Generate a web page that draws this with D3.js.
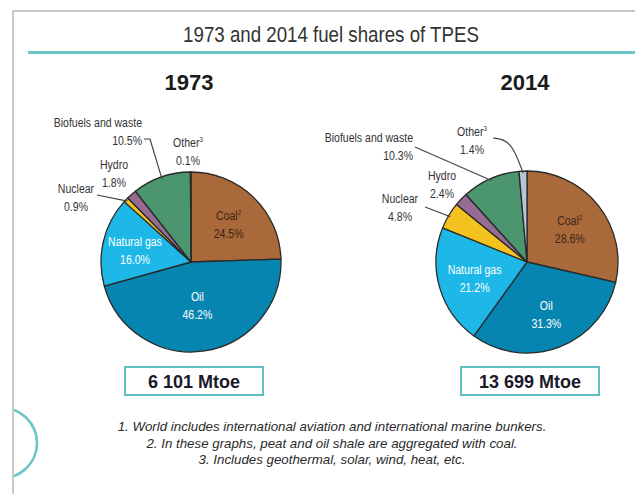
<!DOCTYPE html>
<html lang="en">
<head>
  <meta charset="UTF-8" />
  <title>1973 and 2014 fuel shares of TPES</title>
  <script src="https://d3js.org/d3.v7.min.js"></script>
  <style>
    body { margin: 0; background: #fff; }
    svg { display: block; }
    text { font-family: "Liberation Sans", Arial, sans-serif; }
  </style>
</head>
<body>
  <div id="chart"></div>
  <script>
    // dados
    const categories = ["Coal", "Oil", "Natural gas", "Nuclear", "Hydro", "Biofuels and waste", "Other"];
    const years = ["1973", "2014"];
    const shares1973 = [24.5, 46.2, 16.0, 0.9, 1.8, 10.5, 0.1];
    const shares2014 = [28.6, 31.3, 21.2, 4.8, 2.4, 10.3, 1.4];
    const totals = ["6 101 Mtoe", "13 699 Mtoe"];
    const footnotes = [
      "1. World includes international aviation and international marine bunkers.",
      "2. In these graphs, peat and oil shale are aggregated with coal.",
      "3. Includes geothermal, solar, wind, heat, etc."
    ];
    const title = "1973 and 2014 fuel shares of TPES";

    // estilo
    const colors = ["#a9693a", "#0685b0", "#1db7e8", "#f4c21e", "#966c95", "#4b966e", "#b9c4d6"];
    const supers = { "Coal": "2", "Other": "3" };
    const inside = ["Coal", "Oil", "Natural gas"];

    const width = 635, height = 494;

    const svg = d3.select("#chart").append("svg")
      .attr("width", width)
      .attr("height", height);

    // texto estreito (sem fonte condensada instalada: escala horizontal)
    function narrow(parent, x, y, sx) {
      return parent.append("g")
        .attr("transform", `translate(${x},${y}) scale(${sx},1)`)
        .append("text");
    }

    // moldura
    svg.append("path")
      .attr("d", `M13,${height} L13,11 L${width},11`)
      .attr("fill", "none")
      .attr("stroke", "#c8c8c8")
      .attr("stroke-width", 2);

    svg.append("line")
      .attr("x1", 28).attr("x2", width)
      .attr("y1", 52.5).attr("y2", 52.5)
      .attr("stroke", "#6cc6c6")
      .attr("stroke-width", 3);

    svg.append("defs").append("clipPath").attr("id", "clip")
      .append("rect").attr("x", 14).attr("y", 0).attr("width", 100).attr("height", height);

    svg.append("circle")
      .attr("clip-path", "url(#clip)")
      .attr("cx", 2).attr("cy", 443).attr("r", 35)
      .attr("fill", "none")
      .attr("stroke", "#6cc6c6")
      .attr("stroke-width", 2.5);

    narrow(svg, 331, 42, 0.85)
      .attr("text-anchor", "middle")
      .attr("font-size", 22)
      .attr("fill", "#333")
      .text(title);

    // posição das tortas e rótulos externos (relativos ao centro)
    const pies = [
      {
        values: shares1973, cx: 191, cy: 262, r: 90,
        insideR: { "Coal": 0.6, "Oil": 0.47, "Natural gas": 0.64 },
        outside: {
          "Nuclear": { dx: -115, dy: -69, anchor: "middle", leader: [[-94, -67]] },
          "Hydro": { dx: -77, dy: -93, anchor: "middle" },
          "Biofuels and waste": { dx: -49, dy: -135, anchor: "end", leader: [[-47, -123], [-41, -123]] },
          "Other": { dx: -3, dy: -115, anchor: "middle" }
        }
      },
      {
        values: shares2014, cx: 527, cy: 262, r: 91,
        insideR: { "Coal": 0.6, "Oil": 0.6, "Natural gas": 0.6 },
        outside: {
          "Nuclear": { dx: -127, dy: -59, anchor: "middle", leader: [[-102, -55]] },
          "Hydro": { dx: -85, dy: -82, anchor: "middle" },
          "Biofuels and waste": { dx: -114, dy: -120, anchor: "end", leader: [[-112, -115]] },
          "Other": { dx: -55, dy: -126, anchor: "middle", leader: [[-34, -124], [-16, -122]], curved: true }
        }
      }
    ];

    const fmt = d3.format(".1f");

    function addLabel(g, x, y, name, value, anchor, fill, lh) {
      const t = narrow(g, x, y, 0.78)
        .attr("text-anchor", anchor)
        .attr("font-size", 13.5)
        .attr("fill", fill);
      t.append("tspan").text(name);
      if (supers[name]) {
        t.append("tspan").attr("dy", -5).attr("font-size", 8).text(supers[name]);
      }
      narrow(g, x, y + lh, 0.78)
        .attr("text-anchor", anchor)
        .attr("font-size", 13.5)
        .attr("fill", fill)
        .text(fmt(value) + "%");
    }

    pies.forEach((p, i) => {
      const data = categories.map((c, j) => ({ name: c, value: p.values[j], color: colors[j] }));
      const pie = d3.pie().sort(null).value(d => d.value);
      const arcs = pie(data);
      const arc = d3.arc().innerRadius(0).outerRadius(p.r);

      const g = svg.append("g").attr("transform", `translate(${p.cx},${p.cy})`);

      g.selectAll("path.slice")
        .data(arcs)
        .join("path")
        .attr("class", "slice")
        .attr("d", arc)
        .attr("fill", d => d.data.color)
        .attr("stroke", "#2a2a2a")
        .attr("stroke-width", 1.3)
        .attr("stroke-linejoin", "round");

      // ano
      g.append("text")
        .attr("x", -2).attr("y", -172)
        .attr("text-anchor", "middle")
        .attr("font-size", 22)
        .attr("font-weight", "bold")
        .attr("fill", "#1a1a1a")
        .text(years[i]);

      // rótulos internos
      arcs.filter(d => inside.includes(d.data.name)).forEach(d => {
        const k = p.insideR[d.data.name] * p.r;
        const [x, y] = d3.arc().innerRadius(k).outerRadius(k).centroid(d);
        const dark = d.data.name === "Coal";
        addLabel(g, x, y - 3, d.data.name, d.data.value, "middle", dark ? "#3b2616" : "#fff", 18);
      });

      // rótulos externos + linhas guia
      arcs.filter(d => p.outside[d.data.name]).forEach(d => {
        const o = p.outside[d.data.name];
        addLabel(g, o.dx, o.dy, d.data.name, d.data.value, o.anchor, "#333", 18);
        if (o.leader) {
          const mid = (d.startAngle + d.endAngle) / 2;
          const end = [Math.sin(mid) * (p.r - 2), -Math.cos(mid) * (p.r - 2)];
          const pts = o.leader.concat([end]);
          g.append("path")
            .attr("d", d3.line().curve(o.curved ? d3.curveBasis : d3.curveLinear)(pts))
            .attr("fill", "none")
            .attr("stroke", "#444")
            .attr("stroke-width", 1.2);
        }
      });

      // caixa total
      const bw = 138, bh = 28;
      g.append("rect")
        .attr("x", -bw / 2 + 3).attr("y", 105)
        .attr("width", bw).attr("height", bh)
        .attr("fill", "#fff")
        .attr("stroke", "#5fc0c0")
        .attr("stroke-width", 2);
      g.append("text")
        .attr("x", 3).attr("y", 125.5)
        .attr("text-anchor", "middle")
        .attr("font-size", 18)
        .attr("font-weight", "bold")
        .attr("fill", "#1a1a2a")
        .text(totals[i]);
    });

    // notas
    svg.selectAll("text.note")
      .data(footnotes)
      .join("text")
      .attr("class", "note")
      .attr("x", 332)
      .attr("y", (d, i) => 431 + i * 16.5)
      .attr("text-anchor", "middle")
      .attr("font-size", 13.3)
      .attr("font-style", "italic")
      .attr("fill", "#2a2a2a")
      .text(d => d);
  </script>
</body>
</html>
